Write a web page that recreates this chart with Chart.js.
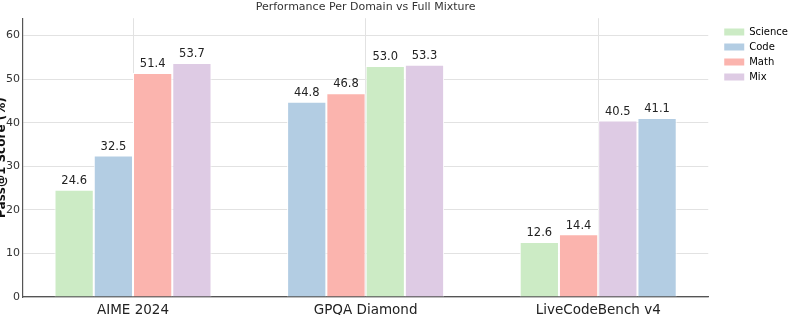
<!DOCTYPE html>
<html>
<head>
<meta charset="utf-8">
<script src="https://cdn.jsdelivr.net/npm/chart.js@4/dist/chart.umd.min.js"></script>
<style>
html,body{margin:0;padding:0;background:#fff;}
#wrap{position:relative;width:800px;height:315px;}
</style>
</head>
<body>
<div id="wrap"><canvas id="c" width="800" height="315"></canvas></div>
<script>
const categories = ['AIME 2024', 'GPQA Diamond', 'LiveCodeBench v4'];
const domains = ['Science', 'Code', 'Math', 'Mix'];
const science = [24.6, 53.0, 12.6];
const code = [32.5, 44.8, 41.1];
const math = [51.4, 46.8, 14.4];
const mix = [53.7, 53.3, 40.5];
const yTicks = [0, 10, 20, 30, 40, 50, 60];

const domainColors = {Science: '#ccebc5', Code: '#b3cde3', Math: '#fbb4ae', Mix: '#decbe4'};
const seriesByDomain = {Science: science, Code: code, Math: math, Mix: mix};

// Bars within each group are ordered by value (ascending); build rank datasets.
const rankDatasets = domains.map((_, rank) => ({
  label: 'rank' + rank,
  data: [],
  backgroundColor: [],
  borderColor: '#ffffff',
  borderWidth: 1,
  domainNames: []
}));
categories.forEach((cat, ci) => {
  const sorted = domains.map(d => ({d, v: seriesByDomain[d][ci]})).sort((a, b) => a.v - b.v);
  sorted.forEach((item, rank) => {
    rankDatasets[rank].data.push(item.v);
    rankDatasets[rank].backgroundColor.push(domainColors[item.d]);
    rankDatasets[rank].domainNames.push(item.d);
  });
});

const FONT = "'DejaVu Sans', sans-serif";

const valueLabels = {
  id: 'valueLabels',
  afterDatasetsDraw(chart) {
    const ctx = chart.ctx;
    ctx.save();
    ctx.font = '11.5px ' + FONT;
    ctx.fillStyle = '#222';
    ctx.textAlign = 'center';
    ctx.textBaseline = 'bottom';
    chart.data.datasets.forEach((ds, di) => {
      chart.getDatasetMeta(di).data.forEach((bar, i) => {
        ctx.fillText(ds.data[i].toFixed(1), bar.x, bar.y - 3);
      });
    });
    ctx.restore();
  }
};

const yTitle = {
  id: 'yTitle',
  afterDraw(chart) {
    const ctx = chart.ctx;
    const a = chart.chartArea;
    ctx.save();
    ctx.translate(1.5, (a.top + a.bottom) / 2);
    ctx.rotate(-Math.PI / 2);
    ctx.font = 'bold 12px ' + FONT;
    ctx.fillStyle = '#111';
    ctx.textAlign = 'center';
    ctx.textBaseline = 'middle';
    ctx.fillText('Pass@1 Score (%)', 0, 0);
    ctx.restore();
  }
};

const legendShift = {
  id: 'legendShift',
  afterLayout(chart) {
    const lg = chart.legend;
    if (!lg) return;
    lg.left += 11; lg.right += 11;
    lg.top += 22; lg.bottom += 22;
  }
};

new Chart(document.getElementById('c'), {
  type: 'bar',
  data: {labels: categories, datasets: rankDatasets},
  options: {
    responsive: false,
    animation: false,
    layout: {padding: {left: 0, right: 13, top: 0, bottom: 0}},
    datasets: {bar: {categoryPercentage: 0.675, barPercentage: 1.0}},
    plugins: {
      title: {
        display: true,
        text: 'Performance Per Domain vs Full Mixture',
        fullSize: false,
        color: '#333',
        font: {family: FONT, size: 11, weight: 'normal'},
        padding: {top: 1, bottom: 4}
      },
      legend: {
        position: 'right',
        align: 'start',
        labels: {
          boxWidth: 20,
          boxHeight: 7,
          padding: 5,
          color: '#444',
          font: {family: FONT, size: 10},
          generateLabels() {
            return domains.map(d => ({
              text: d,
              fillStyle: domainColors[d],
              strokeStyle: domainColors[d],
              lineWidth: 0,
              hidden: false
            }));
          }
        },
        onClick() {}
      },
      tooltip: {enabled: false}
    },
    scales: {
      x: {
        afterBuildTicks(scale) { scale._startValue = -0.473; scale._valueRange = 2.946; },
        afterFit(scale) { scale.height = 18; },
        grid: {offset: false, color: '#e2e2e2', lineWidth: 1, drawTicks: false},
        border: {color: '#555', width: 1.2},
        ticks: {color: '#222', font: {family: FONT, size: 13.5}, padding: 5}
      },
      y: {
        min: 0,
        max: 64,
        afterBuildTicks(scale) { scale.ticks = yTicks.map(v => ({value: v})); },
        afterFit(scale) { scale.width = 23; },
        grid: {color: '#e2e2e2', lineWidth: 1, drawTicks: false},
        border: {color: '#555', width: 1.2},
        ticks: {color: '#333', font: {family: FONT, size: 11}, padding: 3}
      }
    }
  },
  plugins: [valueLabels, yTitle, legendShift]
});
</script>
</body>
</html>
